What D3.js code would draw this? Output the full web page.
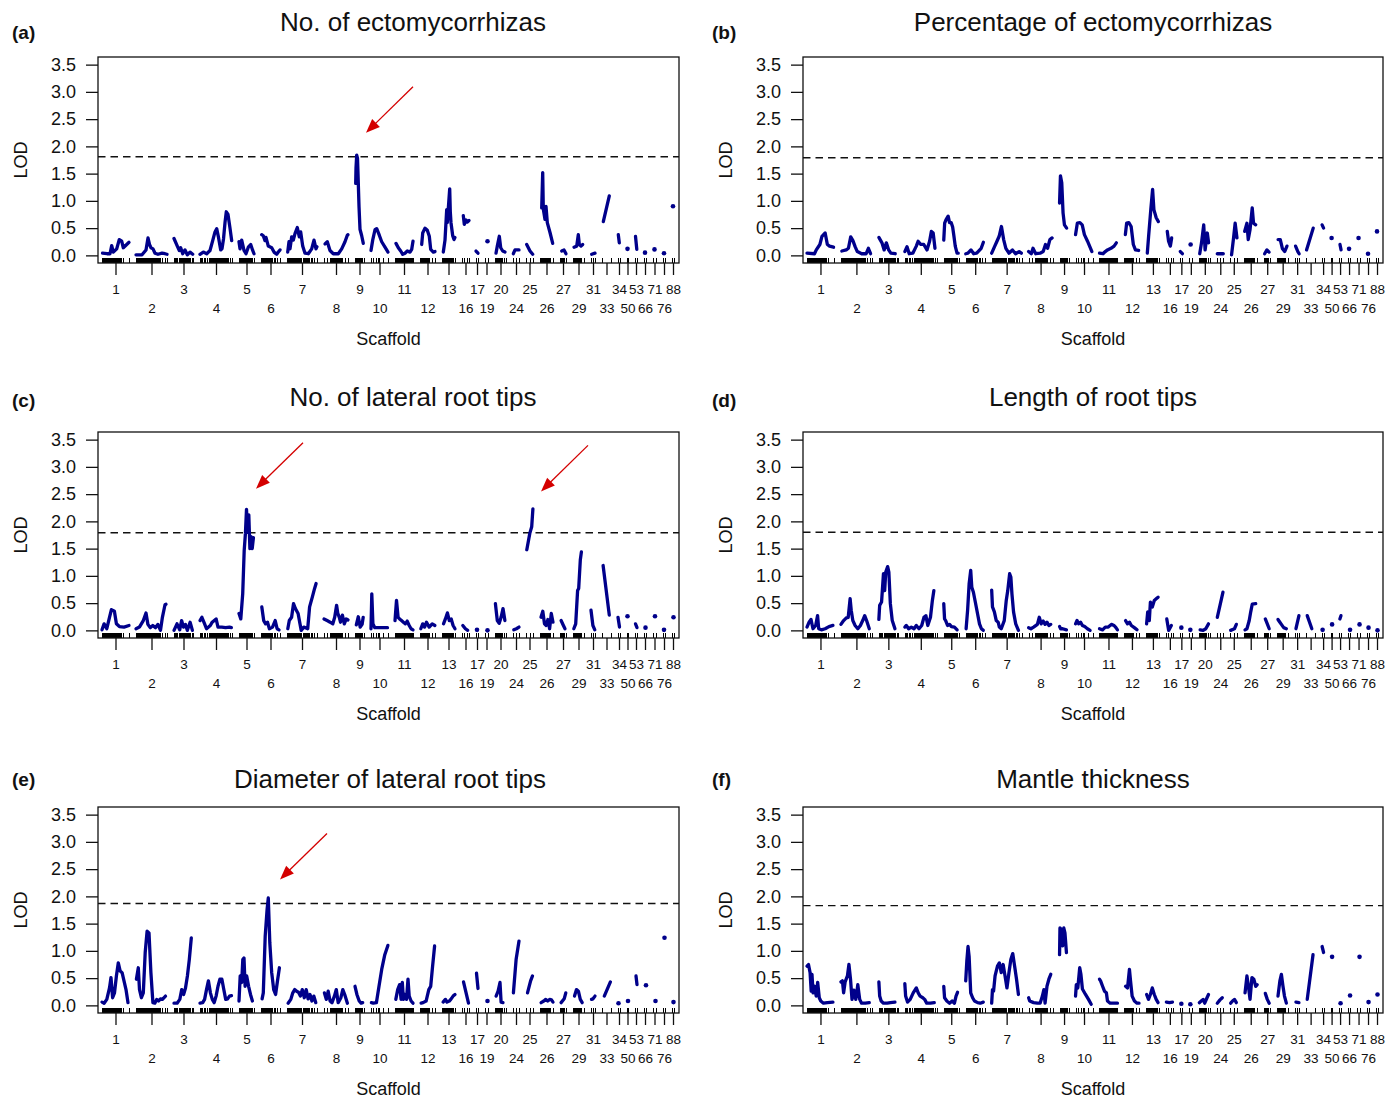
<!DOCTYPE html>
<html><head><meta charset="utf-8">
<script src="https://cdn.jsdelivr.net/npm/d3@7"></script>
<style>
body{margin:0;background:#fff;}
svg{display:block;font-family:"Liberation Sans",Arial,Helvetica,sans-serif;}
</style>
</head><body>
<svg id="chart" width="1395" height="1101"></svg>
<script>
// ---------------- DATA ----------------
const scaffolds = ['1','2','3','4','5','6','7','8','9','10','11','12','13','16','17','19','20','24','25','26','27','29','31','33','34','50','53','66','71','76','88'];
const scaffoldLengths = [27,31,19,32,15,19,30,24,9,17,18,15,13,7,2,3,11,6,7,13,6,11,4,9,2,1,2,2,3,2,2];
const markerPositions = [
 [0,1,2,3,4,5,6,7,8,9,10,11,12,13,14,15,16,17,18,19,21,27],
 [0,1,2,3,4,5,6,7,8,9,10,11,12,13,14,15,16,17,18,19,20,21,22,23,24,26,29,31],
 [0,1,2,3,5,6,7,8,9,10,11,12,13,14,15,16,18,19],
 [0,1,2,4,5,7,9,10,11,12,13,14,15,16,17,18,19,20,21,22,23,24,25,26,27,28,30,32],
 [0,1,2,3,4,5,6,7,8,9,10,11,12,13,15],
 [0,1,2,3,4,5,6,7,8,9,10,11,13,14,16,19],
 [0,1,2,3,4,5,6,7,8,9,10,11,12,13,14,16,17,18,19,20,21,22,24,25,27,30],
 [0,3,6,7,8,9,10,11,12,13,14,15,16,17,18,21,24],
 [0,1,2,3,4,5,6,7,9],
 [0,2,5,7,8,12,17],
 [0,1,2,3,4,5,6,7,8,9,10,11,12,13,14,15,16,17,18],
 [0,1,2,3,4,5,6,7,8,9,12,15],
 [0,1,2,3,4,5,6,7,8,9,10,11,13],
 [0,2,5,7],[0,2],[0,3],
 [0,1,2,3,4,5,6,7,9,11],
 [0,3,6],[0,4,7],
 [0,1,2,3,4,5,6,7,8,9,10,13],
 [0,1,2,3,4,6],
 [0,1,2,3,4,5,6,7,8,11],
 [0,2,4],[0,9],[0,2],[0,1],[0,2],[0,2],[0,3],[0,2],[0,2]
];

// LOD curves: per scaffold, [position within scaffold (cM), LOD]
const lodNoEcto = [
 [[0.5,0.04],[5,0.03],[8,0.03],[9.7,0.18],[11.3,0.06],[14.7,0.12],[17.3,0.29],[19.7,0.26],[21.3,0.14],[24.7,0.2],[27,0.24]],
 [[0,0.01],[6,0.01],[10,0.1],[12,0.32],[13.5,0.2],[15,0.14],[17,0.12],[19,0.04],[22,0.02],[26,0.04],[29,0.03],[31,0.02]],
 [[0,0.31],[3.3,0.17],[5.3,0.09],[6.7,0.14],[8.7,0.03],[11,0.1],[13.3,0.01],[16,0.06],[18.7,0.02]],
 [[0,0.02],[3.3,0.06],[6.7,0.03],[10,0.09],[12.7,0.27],[15,0.43],[16.7,0.49],[18.3,0.35],[20.7,0.1],[22,0.12],[23.5,0.3],[25,0.6],[26.3,0.8],[28,0.75],[30,0.5],[31.7,0.27]],
 [[0,0.25],[1,0.12],[2.7,0.28],[5,0.09],[7,0.03],[9.3,0.15],[11.7,0.2],[13.7,0.09],[15,0.03]],
 [[0.7,0.38],[2.3,0.36],[4,0.27],[5,0.33],[7.3,0.17],[10.7,0.14],[13,0.06],[15.7,0.02],[17.3,0.06],[19,0.1]],
 [[0.7,0.06],[2,0.25],[3,0.12],[4.7,0.34],[6.3,0.28],[8,0.4],[10.3,0.51],[12.3,0.34],[13.7,0.43],[15.7,0.17],[18,0.04],[21.3,0.03],[24.7,0.12],[27,0.28],[29,0.12],[30,0.16]],
 [[1,0.21],[3.3,0.25],[6,0.09],[9.3,0.03],[14.3,0.03],[17.7,0.12],[21,0.25],[23.3,0.37],[24,0.38]],
 [[0.7,1.32],[1,1.6],[1.7,1.84],[2.5,1.78],[3,1.5],[4,0.9],[5,0.48],[6.7,0.36],[8.3,0.22]],
 [[0,0.09],[1.7,0.28],[4,0.47],[5.7,0.49],[8.3,0.37],[10.7,0.25],[14,0.15],[17,0.06]],
 [[1,0.22],[3.3,0.14],[5.7,0.08],[7.7,0.02],[10,0.04],[12.3,0.08],[15,0.06],[16.7,0.11],[18,0.26]],
 [[1.7,0.2],[2.7,0.41],[5,0.5],[7.3,0.46],[9.3,0.35],[10.7,0.11],[13.3,0.06],[15,0.07]],
 [[1.3,0.06],[3,0.28],[4.7,0.84],[5.3,0.6],[7.7,1.22],[8.3,0.8],[9,0.6],[10.7,0.36],[12,0.29],[13,0.33]],
 [[1.3,0.73],[2.3,0.57],[4,0.65],[5.3,0.61],[7,0.64]],
 [[0,0.08],[2,0.04]],
 [[2.5,0.26]],
 [[1,0.04],[2.3,0.17],[4.3,0.35],[5.7,0.14],[7.7,0.08],[10,0.06]],
 [[0.3,0.03],[2,0.1],[5.3,0.1],[6,0.1]],
 [[0.7,0.2],[4,0.08],[6.7,0.02]],
 [[1.7,0.87],[2.7,1.52],[3.3,0.85],[5,0.66],[6,0.9],[7.3,0.6],[10,0.42],[12.7,0.22]],
 [[1.7,0.08],[4,0.1],[6,0.03]],
 [[1,0.15],[3.7,0.17],[5.3,0.38],[6.3,0.2],[8,0.17],[9.7,0.2]],
 [[0.7,0.02],[4,0.04]],
 [[1.3,0.62],[7.3,1.09]],
 [[0.3,0.38],[1.3,0.23]],
 [[0.5,0.12]],
 [[0.5,0.35],[1.8,0.11]],
 [[1,0.05]],
 [[1.5,0.11]],
 [[1,0.04]],
 [[1,0.9]]
];
const lodPctEcto = [
 [[0,0.04],[7.5,0.03],[9.3,0.1],[12.9,0.2],[15,0.35],[18.2,0.41],[20.4,0.2],[22.6,0.17],[26.6,0.15]],
 [[0.9,0.08],[5.3,0.1],[7.5,0.13],[9.8,0.34],[12,0.27],[14.2,0.16],[16.4,0.07],[20.8,0.03],[25.3,0.03],[27.5,0.13],[29.7,0.03]],
 [[0,0.33],[3.1,0.23],[5.3,0.1],[7.5,0.23],[9.8,0.1],[12,0.04],[16.4,0.03]],
 [[0,0.07],[2.2,0.16],[4.4,0.03],[8,0.04],[11.5,0.17],[13.3,0.26],[16,0.2],[19,0.2],[22.2,0.1],[24.8,0.26],[26.6,0.44],[28.4,0.41],[30.2,0.13]],
 [[0,0.28],[0.9,0.59],[2.2,0.65],[4.4,0.72],[5.8,0.6],[7.5,0.6],[8.9,0.52],[10.2,0.35],[11.5,0.17],[13.3,0.04],[14.5,0.04]],
 [[0,0.03],[2.2,0.04],[5.3,0.1],[8,0.03],[11,0.04],[15.5,0.13],[17.7,0.24]],
 [[0,0.04],[3.1,0.17],[5.3,0.26],[7.5,0.35],[9.8,0.53],[12,0.29],[14.2,0.13],[17.3,0.04],[20.8,0.1],[23.9,0.03],[27.5,0.07],[29.7,0.04]],
 [[0,0.07],[2.7,0.03],[4.4,0.13],[7.1,0.03],[11.5,0.04],[14.6,0.07],[16.9,0.2],[19,0.13],[21.3,0.29],[23.5,0.32]],
 [[0,0.96],[0.9,1.46],[2.2,1.33],[3.5,0.78],[4.9,0.56],[7.1,0.5]],
 [[0,0.38],[1.8,0.59],[4.4,0.6],[6.7,0.56],[8.9,0.38],[12,0.26],[16.4,0.07]],
 [[0,0.04],[3.5,0.03],[5.8,0.07],[8,0.1],[11.5,0.13],[14.6,0.17],[16.9,0.23]],
 [[0.9,0.38],[2.2,0.59],[4.4,0.6],[6.7,0.53],[8.9,0.2],[11,0.1],[14.2,0.09]],
 [[0.9,0.04],[2.2,0.35],[4.4,0.84],[6.2,1.21],[7.5,0.84],[9.8,0.69],[12,0.62]],
 [[0.9,0.44],[2.2,0.26],[4,0.17],[5.3,0.32]],
 [[0,0.07],[2,0.03]],
 [[1.3,0.2]],
 [[0.4,0.03],[2.2,0.23],[4.4,0.56],[5.8,0.1],[8,0.41],[9.3,0.23]],
 [[0,0.03],[6,0.03]],
 [[1.3,0.01],[3.5,0.35],[4.9,0.59],[6.7,0.32]],
 [[0.4,0.44],[2.7,0.59],[4,0.29],[5.8,0.47],[8,0.87],[9.3,0.59],[11.5,0.56]],
 [[0.4,0.03],[2.7,0.1],[4.9,0.06]],
 [[0.9,0.29],[3.1,0.29],[5.3,0.12],[7.5,0.07],[9.8,0.17]],
 [[0.4,0.17],[2.7,0.07],[4,0.03]],
 [[0.4,0.1],[7.1,0.5]],
 [[0,0.56],[1.5,0.5]],
 [[0.5,0.32]],
 [[0.9,0.2],[2,0.1]],
 [[1,0.12]],
 [[1.5,0.32]],
 [[1,0.03]],
 [[1,0.44]]
];
const lodNoLateral = [
 [[0,0.01],[2.1,0.12],[4.8,0.03],[7.5,0.24],[9.4,0.38],[12.4,0.35],[14.4,0.12],[17.4,0.07],[22,0.06],[27,0.09]],
 [[0,0.03],[3.4,0.06],[7.3,0.18],[10,0.32],[11.9,0.11],[14.2,0.05],[16.8,0.09],[19.5,0.05],[21.8,0.11],[24.5,0.0],[26.4,0.24],[29,0.47],[30,0.48]],
 [[0,0.0],[3,0.12],[5.7,0.01],[7.6,0.18],[9.5,0.06],[11.4,0.11],[13.3,0.0],[16.1,0.15],[18.4,0.0]],
 [[0,0.18],[1.9,0.24],[4.6,0.12],[6.5,0.03],[10.3,0.09],[12.2,0.15],[16.1,0.21],[18,0.06],[21.8,0.06],[25.6,0.05],[29.5,0.06],[31.4,0.05]],
 [[0,0.31],[1.8,0.21],[3.7,0.67],[5.2,1.47],[6.4,1.77],[7.5,2.22],[8.6,1.8],[9.8,2.12],[10.9,1.5],[12.1,1.72],[13.2,1.5],[14.4,1.7]],
 [[0.8,0.43],[2.7,0.18],[4.6,0.12],[6.5,0.15],[8.4,0.03],[11.5,0.06],[14.2,0.18],[16.1,0.03],[18,0.01]],
 [[0.8,0.03],[2.3,0.18],[4.6,0.24],[6.5,0.49],[8.4,0.4],[11.1,0.31],[13,0.12],[14.2,0.0],[16.8,0.06],[20.7,0.03],[22.6,0.43],[25.3,0.61],[27.6,0.77],[29.1,0.86]],
 [[0,0.21],[3.1,0.18],[6.1,0.15],[8.8,0.12],[10.7,0.24],[12.6,0.46],[13.8,0.31],[15.3,0.24],[16.5,0.15],[18.4,0.28],[20.3,0.12],[22.2,0.21],[24,0.19]],
 [[1.3,0.1],[3.3,0.25],[5.2,0.06],[7.1,0.11],[8.2,0.24]],
 [[0,0.03],[0.8,0.67],[1.9,0.12],[3.8,0.05],[7.7,0.05],[11.5,0.05],[16.5,0.05]],
 [[0,0.18],[1.5,0.55],[3.1,0.24],[4.6,0.21],[6.5,0.18],[8.4,0.15],[10.3,0.12],[12.2,0.17],[14.2,0.09],[16.1,0.03],[18,0.01]],
 [[0.8,0.03],[2.7,0.12],[4.6,0.06],[6.5,0.15],[9.2,0.06],[12.2,0.12],[14.9,0.09]],
 [[1.5,0.12],[3.4,0.21],[5.4,0.32],[7.3,0.18],[9.2,0.21],[11.1,0.09],[13,0.03]],
 [[0.8,0.09],[3.4,0.03],[5.7,0.0]],
 [[1,0.01]],
 [[2.5,0.0]],
 [[0.4,0.49],[2.3,0.18],[4.2,0.13],[6.1,0.24],[8,0.4],[9.9,0.18]],
 [[0.8,0.01],[3.4,0.03],[6,0.06]],
 [[0.8,1.48],[3.8,1.78],[5.7,1.9],[6.9,2.23]],
 [[1,0.24],[2.8,0.35],[4.5,0.12],[6.2,0.09],[7.9,0.2],[9.6,0.03],[11.3,0.31],[13,0.15]],
 [[1.1,0.18],[3.4,0.09],[5,0.03]],
 [[0.8,0.03],[2.7,0.12],[4.6,0.73],[5.7,0.77],[7.3,1.29],[8.4,1.44]],
 [[0,0.37],[1.9,0.09],[3.8,0.01]],
 [[1.1,1.19],[7.3,0.28]],
 [[0,0.24],[1.5,0.06]],
 [[0.5,0.26]],
 [[0.5,0.12],[2,0.05]],
 [[1.5,0.05]],
 [[2,0.26]],
 [[1,0.01]],
 [[1.5,0.24]]
];
const lodLength = [
 [[0,0.06],[2.1,0.15],[4,0.2],[6,0.03],[8.7,0.09],[10.6,0.27],[11.7,0.03],[14.4,0.01],[18.2,0.03],[22,0.07],[26,0.09]],
 [[0,0.11],[2.7,0.18],[5.4,0.23],[7.3,0.24],[9.2,0.58],[10.3,0.37],[11.9,0.18],[14.2,0.09],[16.9,0.03],[19.5,0.09],[21.8,0.18],[23.8,0.27],[25.7,0.18],[28.4,0.03]],
 [[0,0.2],[0.8,0.46],[2.7,0.52],[4.6,1.04],[5.8,0.73],[6.9,1.07],[8.8,1.17],[10,1.07],[11.5,0.49],[13.4,0.18],[16.1,0.03]],
 [[0,0.06],[1.5,0.09],[3.8,0.03],[6.5,0.06],[9.2,0.03],[11.5,0.09],[14.2,0.03],[16.9,0.09],[19.2,0.24],[21.1,0.27],[23,0.09],[25.7,0.24],[27.6,0.55],[29.1,0.73]],
 [[0,0.49],[0.8,0.21],[1.9,0.18],[3.8,0.09],[5.8,0.11],[7.7,0.07],[10.7,0.06],[13.4,0.01]],
 [[0.4,0.03],[1.9,0.37],[3.4,0.85],[5,1.1],[6.1,0.79],[7.7,0.7],[9.6,0.52],[11.9,0.3],[13.8,0.12],[15.7,0.03],[17.6,0.0]],
 [[0,0.74],[0.8,0.43],[2.7,0.34],[4.6,0.18],[6.5,0.15],[7.7,0.06],[9.6,0.03],[12.6,0.18],[14.6,0.55],[16.1,0.73],[18,1.04],[19.2,0.98],[20.3,0.67],[21.9,0.34],[24.1,0.12],[26.8,0.0]],
 [[0,0.05],[2.3,0.03],[5,0.06],[8.8,0.11],[10.7,0.24],[12.6,0.12],[14.6,0.17],[16.5,0.11],[18.4,0.15],[20.3,0.09],[22.2,0.11]],
 [[0,0.07],[1.1,0.03],[3.1,0.03],[6.9,0.01]],
 [[0,0.12],[1.5,0.18],[3.1,0.12],[5,0.15],[6.9,0.09],[9.2,0.07],[11.9,0.03],[14.6,0.0]],
 [[0,0.03],[3.1,0.01],[5.8,0.06],[8.8,0.06],[11.9,0.11],[14.6,0.09],[16.5,0.05],[18,0.01]],
 [[1.1,0.18],[3.1,0.12],[5,0.15],[6.9,0.09],[9.9,0.05],[12.6,0.01]],
 [[0.2,0.12],[1.3,0.34],[2.9,0.18],[4,0.52],[5.9,0.43],[7.9,0.55],[9.8,0.58],[11.7,0.61]],
 [[0.4,0.21],[2.3,0.0],[5,0.09]],
 [[1,0.05]],
 [[1,0.01]],
 [[0.8,0.01],[3.8,0.0],[6.5,0.03],[9.2,0.12]],
 [[0,0.24],[5.7,0.7]],
 [[0.4,0.0],[4.2,0.03],[6.1,0.11]],
 [[0.8,0.01],[2.7,0.03],[5,0.18],[6.5,0.34],[8,0.48],[11.5,0.49]],
 [[1.1,0.21],[3.1,0.12],[5,0.03]],
 [[0.8,0.2],[2.7,0.15],[4.2,0.11],[6.5,0.05],[9.2,0.03]],
 [[0.8,0.03],[3.8,0.27]],
 [[1.1,0.27],[5.7,0.03]],
 [[0.5,0.01]],
 [[1,0.11]],
 [[0.8,0.21],[1.9,0.27]],
 [[2,0.01]],
 [[2.5,0.11]],
 [[1.5,0.05]],
 [[1.5,0.0]]
];
const lodDiameter = [
 [[0,0.06],[2.1,0.04],[4.8,0.11],[7.5,0.32],[9,0.51],[10.6,0.14],[12.5,0.23],[14.4,0.54],[16.3,0.78],[18.2,0.63],[20.1,0.6],[22,0.45],[24,0.29],[26,0.05]],
 [[0.4,0.48],[2.3,0.69],[3.5,0.29],[5.4,0.14],[7.3,0.23],[9.2,0.97],[11.1,1.36],[13,1.33],[14.9,0.6],[16.9,0.05],[18.8,0.04],[20.7,0.11],[22.6,0.08],[24.5,0.12],[26.4,0.11],[29.5,0.17]],
 [[0,0.04],[3.1,0.04],[5.8,0.11],[7.7,0.29],[9.6,0.2],[11.5,0.32],[13.4,0.54],[15.3,0.84],[17.3,1.24]],
 [[0,0.04],[2.7,0.05],[4.6,0.11],[6.5,0.29],[8.4,0.45],[10.4,0.23],[12.3,0.11],[14.2,0.05],[16.1,0.17],[18,0.35],[19.9,0.48],[21.9,0.48],[23.8,0.29],[25.7,0.11],[27.6,0.12],[29.5,0.17],[31.5,0.18]],
 [[0,0.08],[1.2,0.54],[2.7,0.42],[3.8,0.84],[5,0.87],[6.1,0.35],[7.7,0.54],[9.6,0.35],[11.5,0.2],[13.4,0.08]],
 [[1.1,0.12],[2.3,0.23],[4.2,1.27],[6.1,1.76],[7.3,1.97],[8.8,1.15],[10.7,0.6],[12.7,0.29],[14.6,0.2],[16.5,0.45],[18.4,0.69]],
 [[1.1,0.04],[3.8,0.11],[5.8,0.23],[7.7,0.29],[9.6,0.26],[11.5,0.24],[13.4,0.17],[15.3,0.29],[17.3,0.14],[19.2,0.29],[21.1,0.12],[23,0.2],[24.9,0.08],[26.8,0.17],[28.8,0.05]],
 [[0.4,0.23],[2.3,0.11],[4.2,0.26],[6.1,0.08],[8,0.05],[10.4,0.17],[12.3,0.29],[14.2,0.05],[16.9,0.14],[18.8,0.29],[20.7,0.2],[23.4,0.04]],
 [[0,0.35],[1.9,0.2],[4.2,0.08],[6.1,0.04],[7.7,0.05]],
 [[0.4,0.05],[2.3,0.04],[5.4,0.05],[8,0.35],[10.7,0.66],[13.8,0.93],[16.9,1.1]],
 [[0.8,0.11],[2.7,0.29],[4.6,0.38],[6.1,0.11],[7.3,0.42],[8.4,0.11],[10,0.2],[11.5,0.11],[13,0.48],[14.2,0.17],[16.1,0.08],[18,0.04]],
 [[1.1,0.04],[3.1,0.05],[6.1,0.08],[8.8,0.29],[10.7,0.35],[12.6,0.72],[14.6,1.09]],
 [[1.1,0.06],[3.4,0.11],[5,0.06],[7.3,0.08],[8.8,0.11],[11.1,0.17],[13,0.2]],
 [[1.5,0.43],[6.5,0.04]],
 [[0.5,0.59],[2,0.31]],
 [[2.5,0.08]],
 [[1.1,0.17],[3.1,0.26],[5,0.42],[6.1,0.06],[8,0.05]],
 [[0.4,0.23],[3.1,0.84],[6,1.18]],
 [[1.5,0.23],[4.6,0.45],[6.5,0.54]],
 [[1.1,0.05],[3.8,0.08],[5.8,0.11],[7.7,0.08],[9.6,0.11],[11.5,0.1],[13,0.06]],
 [[1.1,0.05],[4.2,0.12],[5.8,0.23]],
 [[1.5,0.17],[3.5,0.29],[5.4,0.26],[7.3,0.11],[9.2,0.05]],
 [[0.5,0.11],[2,0.12],[4,0.17]],
 [[2.3,0.17],[8.4,0.43]],
 [[0.5,0.04]],
 [[1,0.08]],
 [[1,0.54],[2,0.38]],
 [[2,0.37]],
 [[2.5,0.08]],
 [[1.5,1.24]],
 [[1.5,0.06]]
];
const lodMantle = [
 [[0,0.72],[1.5,0.75],[3.1,0.6],[4.2,0.26],[5,0.57],[6.1,0.23],[7.7,0.35],[9.2,0.17],[10.7,0.42],[12.3,0.14],[13.8,0.08],[16.5,0.04],[20.3,0.05],[26,0.06]],
 [[0,0.43],[1.5,0.45],[2.7,0.23],[4.2,0.43],[6.5,0.54],[8,0.75],[9.6,0.48],[11.1,0.11],[13,0.28],[14.9,0.11],[16.9,0.38],[18.8,0.11],[20.7,0.04],[24.5,0.04],[28.4,0.05]],
 [[0,0.43],[0.8,0.17],[2.3,0.08],[4.6,0.04],[8.4,0.04],[11.5,0.05],[16.1,0.06]],
 [[0,0.4],[0.8,0.17],[2.7,0.06],[5.4,0.11],[8.4,0.23],[11.5,0.32],[13.4,0.23],[15.3,0.17],[18,0.14],[19.9,0.11],[21.9,0.04],[25.7,0.04],[29.5,0.05]],
 [[0,0.35],[0.8,0.14],[3.1,0.08],[5.8,0.04],[8.4,0.08],[10.7,0.04],[12.3,0.17],[13.8,0.24]],
 [[0,0.45],[1.1,0.81],[2.3,1.08],[3.4,0.9],[5,0.23],[6.9,0.14],[8.8,0.08],[11.9,0.05],[14.6,0.04],[17.6,0.06]],
 [[0,0.04],[0.8,0.29],[1.9,0.26],[3.4,0.54],[5.8,0.72],[7.7,0.78],[9.6,0.6],[11.5,0.75],[13.4,0.54],[15.3,0.32],[17.3,0.6],[19.2,0.84],[21.1,0.95],[23,0.72],[24.9,0.48],[26.8,0.2]],
 [[0,0.14],[1.1,0.08],[5,0.05],[8.8,0.04],[11.5,0.04],[13.8,0.17],[15.3,0.29],[16.5,0.04],[18.4,0.35],[20.3,0.48],[22.2,0.57]],
 [[0,0.93],[0.4,1.42],[1.9,1.39],[3.1,1.09],[4.2,1.42],[5.4,1.33],[6.9,0.97]],
 [[0,0.17],[0.8,0.38],[2.3,0.32],[4.2,0.69],[5.4,0.57],[6.9,0.3],[10,0.2],[13,0.11],[15.7,0.02]],
 [[0,0.48],[1.1,0.45],[3.1,0.35],[5,0.26],[6.9,0.23],[8,0.08],[10.7,0.04],[14.6,0.04],[18,0.04]],
 [[1.1,0.35],[3.1,0.32],[5,0.66],[6.1,0.45],[7.7,0.17],[10,0.08],[12.6,0.04],[14.6,0.04]],
 [[0.2,0.2],[2.1,0.11],[4,0.2],[5.9,0.32],[7.9,0.2],[9.8,0.11],[11.7,0.05]],
 [[0,0.06],[3.1,0.05],[6.1,0.06]],
 [[1,0.03]],
 [[1,0.02]],
 [[0,0.05],[1.9,0.08],[3.8,0.11],[5.4,0.04],[7.7,0.14],[9.2,0.2]],
 [[0,0.04],[2.7,0.1],[5,0.14]],
 [[0.4,0.04],[2.3,0.08],[4.2,0.11],[6.1,0.05]],
 [[0.8,0.23],[2.7,0.54],[4.2,0.35],[5.8,0.11],[7.7,0.51],[9.6,0.48],[11.5,0.35],[13,0.38]],
 [[1.1,0.22],[3.1,0.11],[5,0.04]],
 [[0.8,0.17],[2.7,0.45],[4.2,0.57],[5.8,0.35],[7.3,0.17],[9.2,0.04]],
 [[0.8,0.06],[3.8,0.05]],
 [[1.1,0.11],[6.9,0.93]],
 [[0,1.08],[1.5,0.97]],
 [[1,0.89]],
 [[1.5,0.04]],
 [[2,0.18]],
 [[2.5,0.89]],
 [[1.5,0.06]],
 [[1.5,0.2]]
];
const panelSeries = [lodNoEcto, lodPctEcto, lodNoLateral, lodLength, lodDiameter, lodMantle];
const panelTitles = ['No. of ectomycorrhizas','Percentage of ectomycorrhizas','No. of lateral root tips','Length of root tips','Diameter of lateral root tips','Mantle thickness'];
const panelLetters = ['(a)','(b)','(c)','(d)','(e)','(f)'];
const thresholds = [1.81, 1.79, 1.79, 1.80, 1.87, 1.83];
const yTicks = [0, 0.5, 1.0, 1.5, 2.0, 2.5, 3.0, 3.5];
const yAxisLabel = 'LOD';
const xAxisLabel = 'Scaffold';
// arrows: panel index, scaffold, position in scaffold (cM), LOD at the arrow tip
const arrowPanels = [0, 2, 2, 4];
const arrowScaffolds = ['9', '5', '25', '6'];
const arrowPositions = [11, 17, 15, 19];
const arrowLods = [2.25, 2.6, 2.55, 2.31];

// ---------------- LAYOUT ----------------
const layouts = [
 {left:98,  width:581, top:57,  titleX:413,  titleY:31,  letX:12,  letY:39},
 {left:803, width:580, top:57,  titleX:1093, titleY:31,  letX:712, letY:39},
 {left:98,  width:581, top:432, titleX:413,  titleY:406, letX:12,  letY:407},
 {left:803, width:580, top:432, titleX:1093, titleY:406, letX:712, letY:407},
 {left:98,  width:581, top:807, titleX:390,  titleY:788, letX:12,  letY:786},
 {left:803, width:580, top:807, titleX:1093, titleY:788, letX:712, letY:786}
];
const H = 206, GAP = 7;
const LINE_COLOR = '#00008B';

const starts = [];
let acc = 0;
scaffoldLengths.forEach(L => { starts.push(acc); acc += L + GAP; });
const totalEnd = starts[starts.length-1] + scaffoldLengths[scaffoldLengths.length-1];
const mids = starts.map((s,i) => s + scaffoldLengths[i]/2);
const midLabel = new Map(mids.map((m,i) => [m, scaffolds[i]]));
const midIndex = new Map(mids.map((m,i) => [m, i]));

const svg = d3.select('#chart');
svg.append('rect').attr('width',1395).attr('height',1101).attr('fill','#fff');

layouts.forEach((Lo, p) => {
  const g = svg.append('g');
  const bottom = Lo.top + H;
  const x = d3.scaleLinear().domain([-4, totalEnd + 5]).range([Lo.left, Lo.left + Lo.width]);
  const y = d3.scaleLinear().domain([-0.14, 3.64]).range([bottom, Lo.top]);

  // title and letter
  g.append('text').attr('x', Lo.titleX).attr('y', Lo.titleY).attr('text-anchor','middle')
    .attr('font-size', 26).attr('fill','#111').text(panelTitles[p]);
  g.append('text').attr('x', Lo.letX).attr('y', Lo.letY)
    .attr('font-size', 19).attr('font-weight','bold').attr('fill','#111').text(panelLetters[p]);

  // threshold
  g.append('line').attr('x1', Lo.left).attr('x2', Lo.left + Lo.width)
    .attr('y1', y(thresholds[p])).attr('y2', y(thresholds[p]))
    .attr('stroke','#111').attr('stroke-width',1.4).attr('stroke-dasharray','7.5,5');

  // curves
  const line = d3.line();
  panelSeries[p].forEach((pts, i) => {
    const s = starts[i];
    if (pts.length === 1) {
      g.append('circle').attr('cx', x(s + pts[0][0])).attr('cy', y(pts[0][1]))
        .attr('r', 2.3).attr('fill', LINE_COLOR);
    } else {
      g.append('path')
        .attr('d', line.x(d => x(s + d[0])).y(d => y(d[1]))(pts))
        .attr('fill','none').attr('stroke', LINE_COLOR).attr('stroke-width', 3.3)
        .attr('stroke-linejoin','round').attr('stroke-linecap','round');
    }
  });

  // rug of markers
  markerPositions.forEach((arr, i) => {
    arr.forEach(m => {
      const xm = Math.round(x(starts[i] + m)) + 0.5;
      g.append('line').attr('x1', xm).attr('x2', xm)
        .attr('y1', bottom).attr('y2', bottom - 5).attr('stroke','#000').attr('stroke-width',1.3)
        .attr('shape-rendering','crispEdges');
    });
  });

  // box
  g.append('rect').attr('x', Lo.left).attr('y', Lo.top).attr('width', Lo.width).attr('height', H)
    .attr('fill','none').attr('stroke','#111').attr('stroke-width',1.3);

  // y axis
  const ya = g.append('g').attr('transform', `translate(${Lo.left},0)`)
    .call(d3.axisLeft(y).tickValues(yTicks).tickFormat(d3.format('.1f')).tickSize(12).tickPadding(10));
  ya.select('.domain').remove();
  ya.selectAll('line').attr('stroke','#111').attr('stroke-width',1.3);
  ya.selectAll('text').attr('font-size',18).attr('font-family','"Liberation Sans",Arial,sans-serif').attr('fill','#111');

  // x axis
  const xa = g.append('g').attr('transform', `translate(0,${bottom})`)
    .call(d3.axisBottom(x).tickValues(mids).tickFormat(d => midLabel.get(d)).tickSize(12));
  xa.select('.domain').remove();
  xa.selectAll('line').attr('stroke','#111').attr('stroke-width',1.3);
  xa.selectAll('text').attr('font-size',13.5).attr('font-family','"Liberation Sans",Arial,sans-serif').attr('fill','#111')
    .attr('dy', 0).attr('y', d => (midIndex.get(d) % 2 === 0) ? 31 : 50);

  // axis titles
  g.append('text').attr('x', Lo.left + Lo.width/2).attr('y', bottom + 82).attr('text-anchor','middle')
    .attr('font-size',18).attr('fill','#111').text(xAxisLabel);
  g.append('text').attr('transform', `translate(${Lo.left - 71},${Lo.top + H/2}) rotate(-90)`)
    .attr('text-anchor','middle').attr('font-size',18).attr('fill','#111').text(yAxisLabel);

  // arrows
  arrowPanels.forEach((ap, k) => {
    if (ap !== p) return;
    const si = scaffolds.indexOf(arrowScaffolds[k]);
    const tx = x(starts[si] + arrowPositions[k]), ty = y(arrowLods[k]);
    const fx = tx + 47, fy = ty - 46;
    const len = Math.hypot(fx - tx, fy - ty);
    const ux = (tx - fx)/len, uy = (ty - fy)/len;
    const hl = 14, hw = 5.5;
    const bx = tx - ux*hl, by = ty - uy*hl;
    g.append('line').attr('x1', fx).attr('y1', fy).attr('x2', bx + ux*2).attr('y2', by + uy*2)
      .attr('stroke','#d40000').attr('stroke-width',1.3);
    g.append('path').attr('d', `M${tx},${ty} L${bx - uy*hw},${by + ux*hw} L${bx + uy*hw},${by - ux*hw} Z`)
      .attr('fill','#d40000');
  });
});
</script>
</body></html>
